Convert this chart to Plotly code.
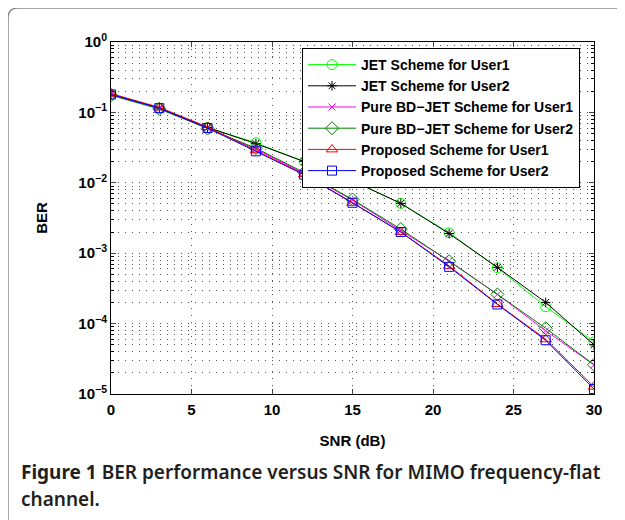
import plotly.graph_objects as go

snr = [0, 3, 6, 9, 12, 15, 18, 21, 24, 27, 30]
jet_u1 = [0.18, 0.115, 0.061, 0.037, 0.020, 0.0107, 0.0051, 0.00195, 0.00062, 0.000174, 0.000055]
jet_u2 = [0.18, 0.115, 0.061, 0.036, 0.020, 0.0107, 0.0051, 0.0019, 0.00063, 0.00020, 0.000050]
pure_u1 = [0.18, 0.115, 0.060, 0.030, 0.0136, 0.0057, 0.0021, 0.00078, 0.00026, 0.000079, 0.000026]
pure_u2 = [0.175, 0.112, 0.059, 0.031, 0.0140, 0.0058, 0.0022, 0.00077, 0.00026, 0.000086, 0.000026]
prop_u1 = [0.185, 0.118, 0.062, 0.029, 0.0132, 0.0052, 0.0020, 0.00066, 0.00019, 0.000060, 0.0000127]
prop_u2 = [0.18, 0.115, 0.060, 0.028, 0.0130, 0.0052, 0.0020, 0.00064, 0.000187, 0.000058, 0.0000118]

names = ["JET Scheme for User1", "JET Scheme for User2",
         "Pure BD\u2212JET Scheme for User1", "Pure BD\u2212JET Scheme for User2",
         "Proposed Scheme for User1", "Proposed Scheme for User2"]
series = [jet_u1, jet_u2, pure_u1, pure_u2, prop_u1, prop_u2]
colors = ["#00ff00", "#000000", "#ff00ff", "#008000", "#ff0000", "#0000ff"]
symbols = ["circle-open", "asterisk-open", "x-thin-open", "diamond-open", "triangle-up-open", "square-open"]
sizes = [10, 8, 7, 10, 10, 9]

ytick_vals = [1, 0.1, 0.01, 0.001, 0.0001, 0.00001]
ytick_text = ["10<sup>0</sup>", "10<sup>\u22121</sup>", "10<sup>\u22122</sup>",
              "10<sup>\u22123</sup>", "10<sup>\u22124</sup>", "10<sup>\u22125</sup>"]
xtick_vals = [0, 5, 10, 15, 20, 25, 30]

fig = go.Figure()
for n, s, c, sym, sz in zip(names, series, colors, symbols, sizes):
    fig.add_trace(go.Scatter(
        x=snr, y=s, name=n, mode="lines+markers",
        line=dict(color=c, width=1),
        marker=dict(symbol=sym, size=sz, color=c, line=dict(color=c, width=1)),
    ))

tickfont = dict(family="Liberation Sans", size=15, color="black", weight="bold")
titlefont = dict(family="Liberation Sans", size=15, color="black")
griddash = "1px,6px"
gridcolor = "#555555"

fig.update_xaxes(
    range=[0, 30], tickvals=xtick_vals, ticks="inside", ticklen=5,
    showline=True, linecolor="black", linewidth=1, mirror="ticks",
    showgrid=True, gridcolor=gridcolor, gridwidth=1, griddash=griddash,
    zeroline=False, tickfont=tickfont, automargin=False, ticklabelstandoff=2,
    title=dict(text="<b>SNR (dB)</b>", font=titlefont, standoff=18),
)
fig.update_yaxes(
    type="log", range=[-5, 0], tickvals=ytick_vals, ticktext=ytick_text,
    ticks="inside", ticklen=5,
    showline=True, linecolor="black", linewidth=1, mirror="ticks",
    showgrid=True, gridcolor=gridcolor, gridwidth=1, griddash=griddash,
    zeroline=False, tickfont=tickfont, automargin=False,
    minor=dict(ticks="inside", ticklen=3, tickcolor="black", showgrid=True,
               gridcolor=gridcolor, gridwidth=1, griddash=griddash, dtick="D1"),
    title=dict(text="<b>BER</b>", font=titlefont, standoff=27),
)

# page body has an 8px margin; work in window pixels and shift
OFF = 8
W, H = 625 - OFF, 520 - OFF
L, R, T, B = 111 - OFF, 625 - 594, 42 - OFF, 520 - 394
pw, ph = W - L - R, H - T - B

def px(x):
    return (x - OFF - L) / pw

def py(y):
    return (H - B - (y - OFF)) / ph

r = 10
path = (f"M {px(8)},{py(560)} L {px(8)},{py(8 + r)} "
        f"Q {px(8)},{py(8)} {px(8 + r)},{py(8)} L {px(660)},{py(8)}")
fig.add_shape(type="path", path=path, xref="paper", yref="paper",
              line=dict(color="#8c8c8c", width=1.5), layer="below")

capfont = dict(family="Noto Sans", size=19, color="#231f20", weight=600)
fig.add_annotation(
    x=px(19), y=py(472), xref="paper", yref="paper", xanchor="left", yanchor="middle",
    text="<b>Figure 1</b> BER performance versus SNR for MIMO frequency-flat",
    showarrow=False, align="left", font=capfont,
)
fig.add_annotation(
    x=px(19), y=py(499), xref="paper", yref="paper", xanchor="left", yanchor="middle",
    text="channel.",
    showarrow=False, align="left", font=capfont,
)

fig.update_layout(
    width=W, height=H,
    margin=dict(l=L, r=R, t=T, b=B),
    paper_bgcolor="white", plot_bgcolor="white",
    legend=dict(
        x=px(302), y=py(48), xanchor="left", yanchor="top",
        bgcolor="white", bordercolor="black", borderwidth=1,
        font=dict(family="Liberation Sans", size=14, color="black", weight="bold"),
        tracegroupgap=0, itemwidth=48,
    ),
    showlegend=True,
)

fig.write_html("out.html")
